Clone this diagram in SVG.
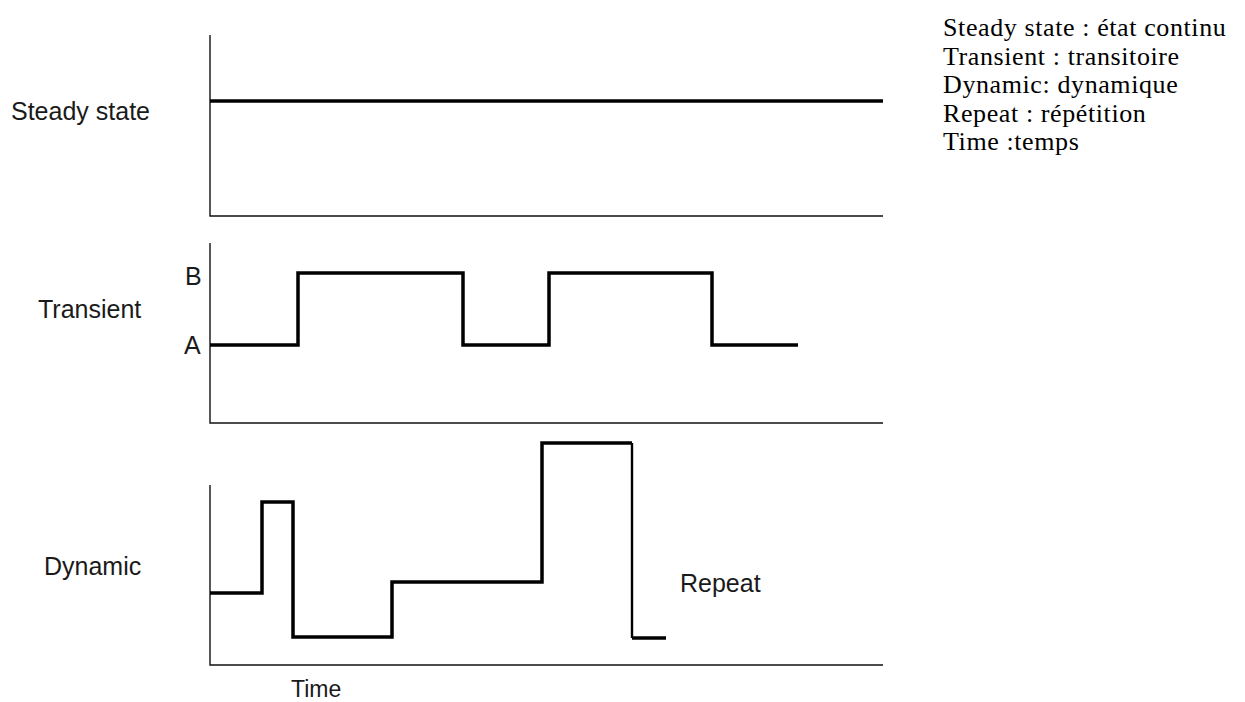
<svg xmlns="http://www.w3.org/2000/svg" width="1245" height="702" viewBox="0 0 1245 702">
<style>
.axis{fill:none;stroke:#111;stroke-width:1.4}
.sig{fill:none;stroke:#000;stroke-width:3.5;stroke-linejoin:miter;stroke-linecap:butt}
.lbl{font-family:"Liberation Sans",Arial,sans-serif;font-size:25px;fill:#1a1a1a}
.leg{font-family:"Liberation Serif","Times New Roman",serif;font-size:26px;letter-spacing:0.6px;fill:#000}
</style>
<rect width="1245" height="702" fill="#fff"/>
<g id="steady">
<path class="axis" d="M210,35 V216 H883"/>
<text class="lbl" x="11" y="120">Steady state</text>
</g>
<g id="transient">
<path class="axis" d="M210,243 V423 H883"/>
<text class="lbl" x="38" y="318">Transient</text>
<text class="lbl" x="185" y="285">B</text>
<text class="lbl" x="184" y="354">A</text>
</g>
<g id="dynamic">
<path class="axis" d="M210,485 V665 H883"/>
<text class="lbl" x="44" y="575">Dynamic</text>
<text class="lbl" x="680" y="592">Repeat</text>
<text class="lbl" x="291" y="697" style="font-size:23px">Time</text>
</g>
<g id="signals">
<path class="sig" d="M210,101 H883"/>
<path class="sig" d="M210,345 H298 V273 H463 V345 H549 V273 H712 V345 H798"/>
<path class="sig" d="M210,593 H262 V502 H293 V637 H392 V582 H542 V443 H632"/>
<path class="sig" style="stroke-width:2.4" d="M632,443 V638"/>
<path class="sig" d="M632,638 H666"/>
</g>
<g id="legend">
<text class="leg" x="943" y="36">Steady state : état continu</text>
<text class="leg" x="943" y="64.5">Transient : transitoire</text>
<text class="leg" x="943" y="93">Dynamic: dynamique</text>
<text class="leg" x="943" y="121.5">Repeat : répétition</text>
<text class="leg" x="943" y="150">Time :temps</text>
</g>
</svg>
